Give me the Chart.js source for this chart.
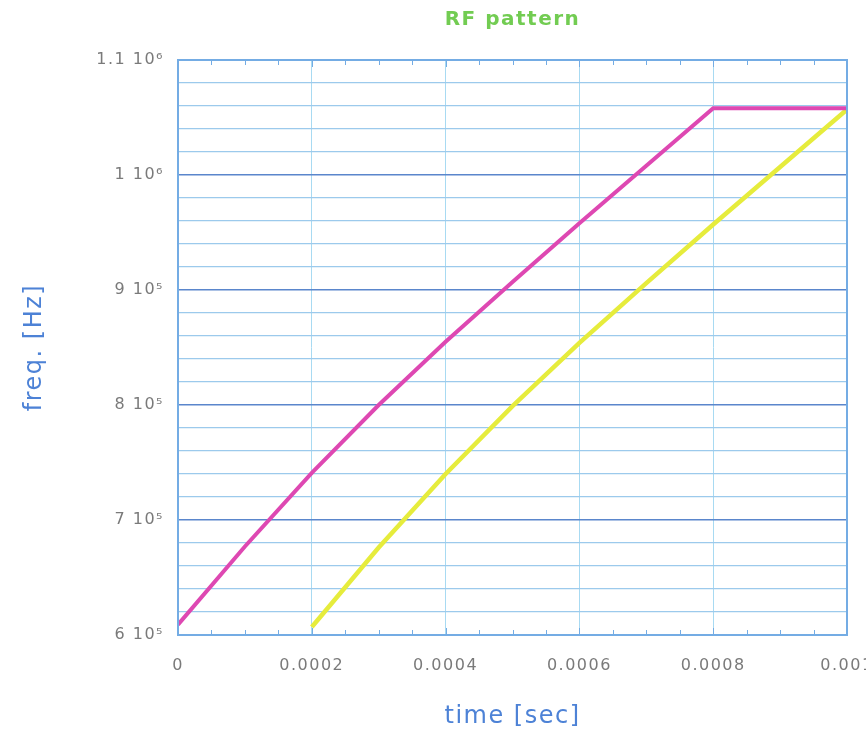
<!DOCTYPE html>
<html>
<head>
<meta charset="utf-8">
<title>RF pattern</title>
<script src="https://cdn.jsdelivr.net/npm/chart.js@4/dist/chart.umd.min.js"></script>
<style>
  html, body { margin: 0; padding: 0; background: #fff; overflow: hidden; }
  #wrap { width: 900px; height: 734px; }
</style>
</head>
<body>
<div id="wrap"><canvas id="rf" width="900" height="734"></canvas></div>
<script>
  // values
  var timeMagenta = [0, 0.0001, 0.0002, 0.0003, 0.0004, 0.0005, 0.0006, 0.0007, 0.0008, 0.001];
  var freqMagenta = [609000, 677000, 741000, 800000, 855000, 907000, 958000, 1008000, 1058000, 1058000];
  var timeYellow = [0.0002, 0.0003, 0.0004, 0.0005, 0.0006, 0.0007, 0.0008, 0.0009, 0.001];
  var freqYellow = [607000, 676000, 740000, 799000, 854000, 906000, 957000, 1007000, 1057000];

  var xTickValues = [0, 0.0002, 0.0004, 0.0006, 0.0008, 0.001];
  var xTickLabels = ['0', '0.0002', '0.0004', '0.0006', '0.0008', '0.001'];
  var yTickValues = [600000, 700000, 800000, 900000, 1000000, 1100000];
  var yTickLabels = ['6 10\u2075', '7 10\u2075', '8 10\u2075', '9 10\u2075', '1 10\u2076', '1.1 10\u2076'];

  function toPoints(xs, ys) {
    return xs.map(function (x, i) { return { x: x, y: ys[i] }; });
  }

  function labelFor(values, labels, v) {
    for (var i = 0; i < values.length; i++) {
      if (Math.abs(values[i] - v) < 1e-9 * Math.max(1, Math.abs(v))) return labels[i];
    }
    return '';
  }

  // wider text spacing like the original plot
  var spacing = {
    id: 'spacing',
    beforeUpdate: function (chart) { chart.ctx.letterSpacing = '1.5px'; },
    beforeDraw: function (chart) { chart.ctx.letterSpacing = '1.5px'; }
  };

  // plot frame + small inward ticks on top and bottom
  var frame = {
    id: 'frame',
    afterDatasetsDraw: function (chart) {
      var a = chart.chartArea, ctx = chart.ctx, xs = chart.scales.x;
      ctx.save();
      ctx.strokeStyle = '#74ace4';
      ctx.lineWidth = 1;
      for (var k = 0; k <= 20; k++) {
        var px = Math.round(xs.getPixelForValue(k * 0.00005)) + 0.5;
        var len = (k % 4 === 0) ? 7 : 5;
        ctx.beginPath();
        ctx.moveTo(px, a.bottom); ctx.lineTo(px, a.bottom - len);
        ctx.moveTo(px, a.top); ctx.lineTo(px, a.top + len);
        ctx.stroke();
      }
      ctx.lineWidth = 2;
      ctx.strokeRect(a.left, a.top, a.right - a.left, a.bottom - a.top);
      ctx.restore();
    }
  };

  Chart.defaults.font.family = "'DejaVu Sans', sans-serif";

  new Chart(document.getElementById('rf').getContext('2d'), {
    type: 'line',
    data: {
      datasets: [
        {
          label: 'RF 1',
          data: toPoints(timeMagenta, freqMagenta),
          borderColor: '#de48b2',
          borderWidth: 4,
          pointRadius: 0,
          tension: 0,
          fill: false
        },
        {
          label: 'RF 2',
          data: toPoints(timeYellow, freqYellow),
          borderColor: '#e6ec3c',
          borderWidth: 4.5,
          pointRadius: 0,
          tension: 0,
          fill: false
        }
      ]
    },
    options: {
      responsive: false,
      animation: false,
      layout: { padding: { left: 20, right: 53, top: 0, bottom: 0 } },
      scales: {
        x: {
          type: 'linear',
          min: 0,
          max: 0.001,
          afterFit: function (s) { s.height = 99; },
          ticks: {
            stepSize: 0.0002,
            autoSkip: false,
            maxRotation: 0,
            padding: 21,
            color: '#7a7a7a',
            font: { size: 16 },
            callback: function (v) { return labelFor(xTickValues, xTickLabels, v); }
          },
          grid: { color: '#a8daf2', lineWidth: 1, drawTicks: false },
          border: { display: false },
          title: {
            display: true,
            text: 'time [sec]',
            color: '#4d82d6',
            font: { size: 24 },
            padding: { top: 4, bottom: 3 }
          }
        },
        y: {
          min: 600000,
          max: 1100000,
          afterFit: function (s) { s.width = 158; },
          ticks: {
            stepSize: 20000,
            autoSkip: false,
            padding: 14,
            color: '#7a7a7a',
            font: { size: 16 },
            callback: function (v) { return labelFor(yTickValues, yTickLabels, v); }
          },
          grid: {
            drawTicks: false,
            color: function (c) {
              return (c.tick && c.tick.value % 100000 === 0) ? '#5a86cc' : '#9ccaec';
            },
            lineWidth: function (c) {
              return (c.tick && c.tick.value % 100000 === 0) ? 1.6 : 1.2;
            }
          },
          border: { display: false },
          title: {
            display: true,
            text: 'freq. [Hz]',
            color: '#4d82d6',
            font: { size: 24 },
            padding: { top: 0, bottom: 6 }
          }
        }
      },
      plugins: {
        legend: { display: false },
        tooltip: { enabled: false },
        title: {
          display: true,
          fullSize: false,
          text: 'RF pattern',
          color: '#72cc52',
          font: { size: 20, weight: 'bold' },
          padding: { top: 8, bottom: 28 }
        }
      }
    },
    plugins: [spacing, frame]
  });
</script>
</body>
</html>
